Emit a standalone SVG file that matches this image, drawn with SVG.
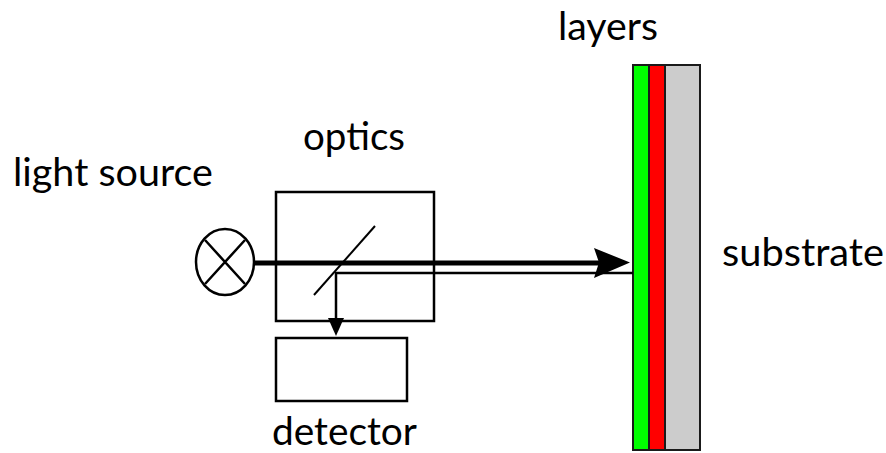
<svg xmlns="http://www.w3.org/2000/svg" width="886" height="453" viewBox="0 0 886 453">
<style>
.o{fill:none;stroke:#000;stroke-width:2.5}
.t{font-family:"Lato","Open Sans",sans-serif;font-size:38px;fill:#000}
.l{stroke:#1a1a1a;stroke-width:2}
</style>
<rect width="886" height="453" fill="#fff"/>
<g id="layers">
<rect x="633" y="65" width="16" height="385" fill="#00ff00" class="l"/>
<rect x="649" y="65" width="16" height="385" fill="#ff0000" class="l"/>
<rect x="665" y="65" width="35" height="385" fill="#cccccc" class="l"/>
<text class="t" x="558" y="40" textLength="100" lengthAdjust="spacingAndGlyphs">layers</text>
</g>
<g id="substrate"><text class="t" x="722" y="266" textLength="162" lengthAdjust="spacingAndGlyphs">substrate</text></g>
<g id="optics">
<rect x="276" y="192" width="158" height="129" class="o"/>
<text class="t" x="303" y="150" textLength="102" lengthAdjust="spacingAndGlyphs">optics</text>
</g>
<g id="detector">
<rect x="276" y="338" width="131" height="63" class="o"/>
<text class="t" x="272" y="445" textLength="145" lengthAdjust="spacingAndGlyphs">detector</text>
</g>
<g id="light-source">
<ellipse cx="225" cy="262" rx="29" ry="33" class="o"/>
<path d="M205 240L245 284M245 240L205 284" class="o"/>
<text class="t" x="13" y="186" textLength="200" lengthAdjust="spacingAndGlyphs">light source</text>
</g>
<g id="connectors" fill="none" stroke="#000">
<path d="M254 263H600" stroke-width="5"/>
<path d="M336 273H633" stroke-width="2.5"/>
<path d="M336 272V322" stroke-width="2.5"/>
<path d="M314 295L375 226" stroke-width="2"/>
<path d="M594 248L630 262.5L594 278L599 262.5Z" fill="#000" stroke="none"/>
<path d="M328 318L344 318L336 336Z" fill="#000" stroke="none"/>
</g>
</svg>
